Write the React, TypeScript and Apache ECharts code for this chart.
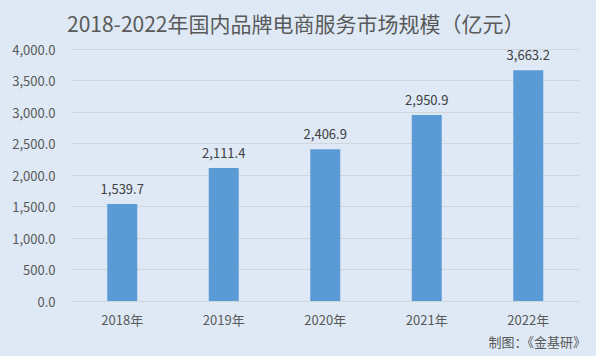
import React, { useEffect, useRef } from "react";
import * as echarts from "echarts";

const categories = ["2018年", "2019年", "2020年", "2021年", "2022年"];
const values = [1539.7, 2111.4, 2406.9, 2950.9, 3663.2];
const titleText = "2018-2022年国内品牌电商服务市场规模（亿元）";
const sourceText = "制图：《金基研》";

const fmt = (v: number) =>
  v.toLocaleString("en-US", { minimumFractionDigits: 1, maximumFractionDigits: 1 });

export default function App() {
  const ref = useRef<HTMLDivElement>(null);
  useEffect(() => {
    const chart = echarts.init(ref.current!, null, { renderer: "svg" });
    const font = "'Microsoft YaHei', 'Noto Sans CJK SC', sans-serif";
    chart.setOption({
      animation: false,
      backgroundColor: "#dee9f5",
      title: {
        text: titleText,
        left: 62,
        top: 7,
        textStyle: { color: "#595959", fontSize: 21, fontWeight: "normal", fontFamily: font },
      },
      graphic: [
        {
          type: "text",
          right: 10,
          top: 335,
          style: { text: sourceText, fill: "#595959", fontSize: 13, fontFamily: font },
        },
      ],
      grid: { left: 71.5, right: 17, top: 49, bottom: 55 },
      xAxis: {
        type: "category",
        data: categories,
        axisLine: { show: true, lineStyle: { color: "#d0d5da" } },
        axisTick: { show: false },
        axisLabel: { color: "#595959", fontSize: 13, margin: 12, fontFamily: font },
      },
      yAxis: {
        type: "value",
        min: 0,
        max: 4000,
        interval: 500,
        axisLine: { show: false },
        axisTick: { show: false },
        splitLine: { lineStyle: { color: "#d0d5da" } },
        axisLabel: {
          color: "#595959",
          fontSize: 13,
          margin: 16,
          fontFamily: font,
          formatter: (v: number) => fmt(v),
        },
      },
      series: [
        {
          type: "bar",
          data: values,
          barWidth: 30,
          itemStyle: { color: "#5b9bd5" },
          label: {
            show: true,
            position: "top",
            distance: 9,
            color: "#404040",
            fontSize: 13,
            fontFamily: font,
            formatter: (p: any) => fmt(p.value),
          },
        },
      ],
    });
    return () => chart.dispose();
  }, []);
  return (
    <div
      ref={ref}
      style={{ position: "absolute", left: 0, top: 0, width: 596, height: 356 }}
    />
  );
}
